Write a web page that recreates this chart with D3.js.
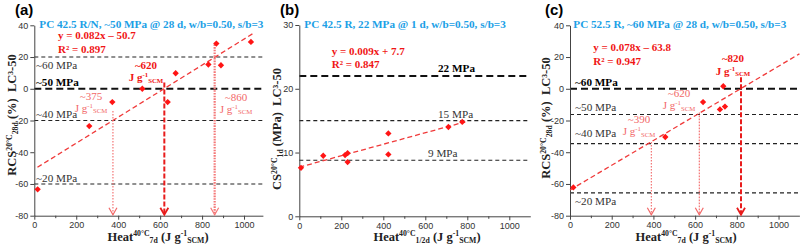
<!DOCTYPE html>
<html><head><meta charset="utf-8">
<script src="https://cdn.jsdelivr.net/npm/d3@7"></script>
<style>body{margin:0;background:#fff}</style>
</head><body>
<svg id="chart" width="800" height="246"></svg>
<script>
// ================= DATA =================
const xTickValues = [0, 200, 400, 600, 800, 1000];
const xMinorTickValues = [100, 300, 500, 700, 900];
const yTicksRCS = [40, 20, 0, -20, -40, -60, -80];
const yTicksCS = [0, 10, 20, 30];

// Panel (a)
const titleA = "PC 42.5 R/N, ~50 MPa @ 28 d, w/b=0.50, s/b=3";
const heatA = [16, 262, 372, 515, 636, 674, 830, 868, 890, 1033];
const rcsA  = [-63.4, -23.5, -8.4, 0, -8.4, 9.8, 15.3, 28.5, 14.8, 29.5];
const fitSlopeA = 0.082, fitInterceptA = -50.7, fitRangeA = [15, 1040];
const eqA = "y = 0.082x \u2013 50.7", r2A = "R\u00b2 = 0.897";
const levelsA = [20, 0, -20, -60];
const levelLabelsA = ["~60 MPa", "~50 MPa", "~40 MPa", "~20 MPa"];
const arrowXA = [375, 620, 860];
const arrowTopA = [-14, 4, 28];
const arrowLabelsA = ["~375", "~620", "~860"];

// Panel (b)
const titleB = "PC 42.5 R, 22 MPa @ 1 d, w/b=0.50, s/b=3";
const heatB = [8, 114, 218, 230, 230, 424, 424, 710, 776];
const csB   = [7.6, 9.5, 9.6, 9.9, 8.5, 13.0, 9.7, 14.0, 14.8];
const fitSlopeB = 0.009, fitInterceptB = 7.7, fitRangeB = [0, 790];
const eqB = "y = 0.009x + 7.7", r2B = "R\u00b2 = 0.847";
const levelsB = [22, 15, 8.8];
const levelLabelsB = ["22 MPa", "15 MPa", "9 MPa"];

// Panel (c)
const titleC = "PC 52.5 R, ~60 MPa @ 28 d, w/b=0.50, s/b=3";
const heatC = [16, 457, 638, 719, 735, 743];
const rcsC  = [-62.2, -30.4, -8.4, -13, 1.6, -11.2];
const fitSlopeC = 0.078, fitInterceptC = -63.8, fitRangeC = [0, 1100];
const eqC = "y = 0.078x \u2013 63.8", r2C = "R\u00b2 = 0.947";
const levelsC = [0, -16.2, -34.6, -65.6];
const levelLabelsC = ["~60 MPa", "~50 MPa", "~40 MPa", "~20 MPa"];
const arrowXC = [390, 620, 820];
const arrowTopC = [-33.5, -15, 7.3];
const arrowLabelsC = ["~390", "~620", "~820"];

// ================= STYLE / LAYOUT =================
const SERIF = "'Liberation Serif','Times New Roman',serif";
const SANS = "'Liberation Sans',Arial,sans-serif";
const BLUE = "#1ba0e6", RED = "#f01515", LRED = "#f26868", PTRED = "#ff1414", FITRED = "#f03a3a";
const AXIS = "#444";

const svg = d3.select("#chart");

function rich(g, x, y, segs, o) {
  const fs = o.size;
  const t = g.append("text").attr("x", x).attr("y", y)
    .attr("font-family", o.family || SERIF).attr("font-size", fs)
    .attr("font-weight", o.weight || "normal").attr("fill", o.fill || "#000")
    .attr("text-anchor", o.anchor || "start");
  if (o.rotate) t.attr("transform", `rotate(-90,${x},${y})`);
  let cur = 0;
  segs.forEach(([s, type]) => {
    const off = type === "sup" ? -0.33 * fs : type === "sub" ? 0.18 * fs : 0;
    t.append("tspan").attr("dy", off - cur)
      .attr("font-size", type === "n" ? fs : fs * 0.62).text(s);
    cur = off;
  });
  return t;
}

const lineStyles = {
  thin: {w: 1.1, dash: "4,3", color: "#222"},
  thick: {w: 2, dash: "7,4", color: "#111"}
};
const arrowStyles = {
  light: {w: 1.1, dash: "1.6,1.4", color: LRED},
  lightThick: {w: 2.2, dash: "1.6,1.1", color: "#f47878"},
  bold: {w: 2, dash: "5,2", color: "#e81c1c"}
};

const panels = [
  {
    letter: "(a)", letterX: 15,
    xr: [34.3, 262.9], xMax: 1090, yDomain: [-80, 40], yr: [215.7, 25.3], yTicks: yTicksRCS,
    heat: heatA, val: rcsA, fit: [fitSlopeA, fitInterceptA, fitRangeA],
    title: titleA, titleX: 39.3, eq: [eqA, r2A], eqX: 58, eqY: [39, 53],
    levels: levelsA, levelLabels: levelLabelsA, levelBold: [false, true, false, false],
    levelStyle: ["thin", "thick", "thin", "thin"],
    levelLabelPos: [[36, 68.5], [36, 85.5], [36, 118], [36, 181.5]],
    arrows: arrowXA, arrowTop: arrowTopA, arrowLabels: arrowLabelsA,
    arrowStyle: ["light", "bold", "lightThick"],
    arrowLabelPos: [[91, 99.5, 111.5], [146, 69, 81], [236, 100.5, 112.5]],
    ylab: [["RCS", "n"], ["20\u00b0C", "sup"], ["28d", "sub"], [" (%)\u00a0\u00a0LC\u00b3-50", "n"]],
    ylabPos: [16, 115],
    xlab: [["Heat", "n"], ["40\u00b0C", "sup"], ["7d", "sub"], [" (J g", "n"], ["-1", "sup"], ["SCM", "sub"], [")", "n"]],
    xlabPos: [158, 240.5]
  },
  {
    letter: "(b)", letterX: 280,
    xr: [299.3, 530.3], xMax: 1100, yDomain: [0, 30], yr: [216.3, 25], yTicks: yTicksCS,
    heat: heatB, val: csB, fit: [fitSlopeB, fitInterceptB, fitRangeB],
    title: titleB, titleX: 304.3, eq: [eqB, r2B], eqX: 331.7, eqY: [54.5, 68],
    levels: levelsB, levelLabels: levelLabelsB, levelBold: [true, false, false],
    levelStyle: ["thick", "thin", "thin"],
    levelLabelPos: [[438, 71.5], [438, 118], [428, 157]],
    arrows: [], arrowTop: [], arrowLabels: [], arrowStyle: [], arrowLabelPos: [],
    ylab: [["CS", "n"], ["20\u00b0C", "sup"], ["1d", "sub"], [" (MPa)\u00a0\u00a0LC\u00b3-50", "n"]],
    ylabPos: [281, 129],
    xlab: [["Heat", "n"], ["40\u00b0C", "sup"], ["1/2d", "sub"], [" (J g", "n"], ["-1", "sup"], ["SCM", "sub"], [")", "n"]],
    xlabPos: [427, 240.5]
  },
  {
    letter: "(c)", letterX: 545,
    xr: [570, 799.4], xMax: 1100, yDomain: [-80, 40], yr: [215.7, 25.3], yTicks: yTicksRCS,
    heat: heatC, val: rcsC, fit: [fitSlopeC, fitInterceptC, fitRangeC],
    title: titleC, titleX: 573.3, eq: [eqC, r2C], eqX: 593.3, eqY: [50.5, 64.5],
    levels: levelsC, levelLabels: levelLabelsC, levelBold: [true, false, false, false],
    levelStyle: ["thick", "thin", "thin", "thin"],
    levelLabelPos: [[575, 86], [575, 110.5], [575, 137], [575, 205]],
    arrows: arrowXC, arrowTop: arrowTopC, arrowLabels: arrowLabelsC,
    arrowStyle: ["light", "light", "bold"],
    arrowLabelPos: [[639, 122.5, 135], [679, 97, 109], [733, 62, 74.5]],
    ylab: [["RCS", "n"], ["20\u00b0C", "sup"], ["28d", "sub"], [" (%)\u00a0\u00a0LC\u00b3-50", "n"]],
    ylabPos: [550, 118],
    xlab: [["Heat", "n"], ["40\u00b0C", "sup"], ["7d", "sub"], [" (J g", "n"], ["-1", "sup"], ["SCM", "sub"], [")", "n"]],
    xlabPos: [686, 240.5]
  }
];

panels.forEach(p => {
  const g = svg.append("g");
  const x = d3.scaleLinear().domain([0, p.xMax]).range(p.xr);
  const y = d3.scaleLinear().domain(p.yDomain).range(p.yr);

  g.append("text").attr("x", p.letterX).attr("y", 14.5).attr("font-family", SANS)
    .attr("font-weight", "bold").attr("font-size", 15).text(p.letter);

  p.levels.forEach((lv, i) => {
    const st = lineStyles[p.levelStyle[i]];
    g.append("line").attr("x1", x(0)).attr("x2", x(p.xMax)).attr("y1", y(lv)).attr("y2", y(lv))
      .attr("stroke", st.color).attr("stroke-width", st.w).attr("stroke-dasharray", st.dash);
    const [lx, ly] = p.levelLabelPos[i];
    g.append("text").attr("x", lx).attr("y", ly).attr("font-family", SERIF)
      .attr("font-size", 11.2).attr("font-weight", p.levelBold[i] ? "bold" : "normal")
      .attr("fill", p.levelBold[i] ? "#000" : "#333").text(p.levelLabels[i]);
  });

  const fmt = d => String(d);
  const xAxis = d3.axisBottom(x).tickValues(xTickValues).tickFormat(fmt).tickSize(4).tickSizeOuter(0).tickPadding(2);
  const xg = g.append("g").attr("transform", `translate(0,${p.yr[0]})`).call(xAxis);
  const xMinor = d3.axisBottom(x).tickValues(xMinorTickValues).tickSize(2.5).tickSizeOuter(0).tickFormat("");
  const xmg = g.append("g").attr("transform", `translate(0,${p.yr[0]})`).call(xMinor);
  xmg.select(".domain").remove();
  const yAxis = d3.axisLeft(y).tickValues(p.yTicks).tickFormat(fmt).tickSize(4).tickSizeOuter(0).tickPadding(2);
  const yg = g.append("g").attr("transform", `translate(${p.xr[0]},0)`).call(yAxis);
  [xg, xmg, yg].forEach(a => {
    a.selectAll("path,line").attr("stroke", AXIS).attr("stroke-width", 1);
    a.selectAll("text").attr("font-family", SANS).attr("font-size", 9).attr("fill", "#333");
  });

  const [sl, ic, fr] = p.fit;
  g.append("line").attr("x1", x(fr[0])).attr("y1", y(sl * fr[0] + ic))
    .attr("x2", x(fr[1])).attr("y2", y(sl * fr[1] + ic))
    .attr("stroke", FITRED).attr("stroke-width", 1.3).attr("stroke-dasharray", "5,3");

  p.arrows.forEach((ax, i) => {
    const st = arrowStyles[p.arrowStyle[i]];
    const yb = y(p.yDomain[0]) - 1;
    g.append("line").attr("x1", x(ax)).attr("x2", x(ax)).attr("y1", y(p.arrowTop[i])).attr("y2", yb)
      .attr("stroke", st.color).attr("stroke-width", st.w).attr("stroke-dasharray", st.dash);
    g.append("path").attr("d", `M${x(ax) - 4},${yb - 7}L${x(ax)},${yb}L${x(ax) + 4},${yb - 7}`)
      .attr("fill", "none").attr("stroke", st.color).attr("stroke-width", p.arrowStyle[i] === "bold" ? 1.8 : 1.2);
    const [cx, y1, y2] = p.arrowLabelPos[i];
    const bold = p.arrowStyle[i] === "bold";
    const col = bold ? RED : LRED;
    g.append("text").attr("x", cx).attr("y", y1).attr("text-anchor", "middle")
      .attr("font-family", SERIF).attr("font-size", 11).attr("font-weight", bold ? "bold" : "normal")
      .attr("fill", col).text(p.arrowLabels[i]);
    rich(g, cx, y2, [["J g", "n"], ["-1", "sup"], ["SCM", "sub"]],
      {size: 11, weight: bold ? "bold" : "normal", fill: col, anchor: "middle"});
  });

  const sym = d3.symbol().type(d3.symbolSquare).size(20);
  g.selectAll(".pt").data(p.heat.map((h, i) => [h, p.val[i]])).enter().append("path")
    .attr("d", sym).attr("fill", PTRED)
    .attr("transform", d => `translate(${x(d[0])},${y(d[1])}) rotate(45)`);

  g.append("text").attr("x", p.titleX).attr("y", 27.5).attr("font-family", SERIF)
    .attr("font-weight", "bold").attr("font-size", 11.2).attr("fill", BLUE).text(p.title);
  p.eq.forEach((s, i) => g.append("text").attr("x", p.eqX).attr("y", p.eqY[i]).attr("font-family", SERIF)
    .attr("font-weight", "bold").attr("font-size", 11).attr("fill", RED).text(s));

  rich(g, p.ylabPos[0], p.ylabPos[1], p.ylab, {size: 12.5, weight: "bold", anchor: "middle", rotate: true, fill: "#222"});
  rich(g, p.xlabPos[0], p.xlabPos[1], p.xlab, {size: 12.5, weight: "bold", anchor: "middle", fill: "#222"});
});
</script>
</body></html>
